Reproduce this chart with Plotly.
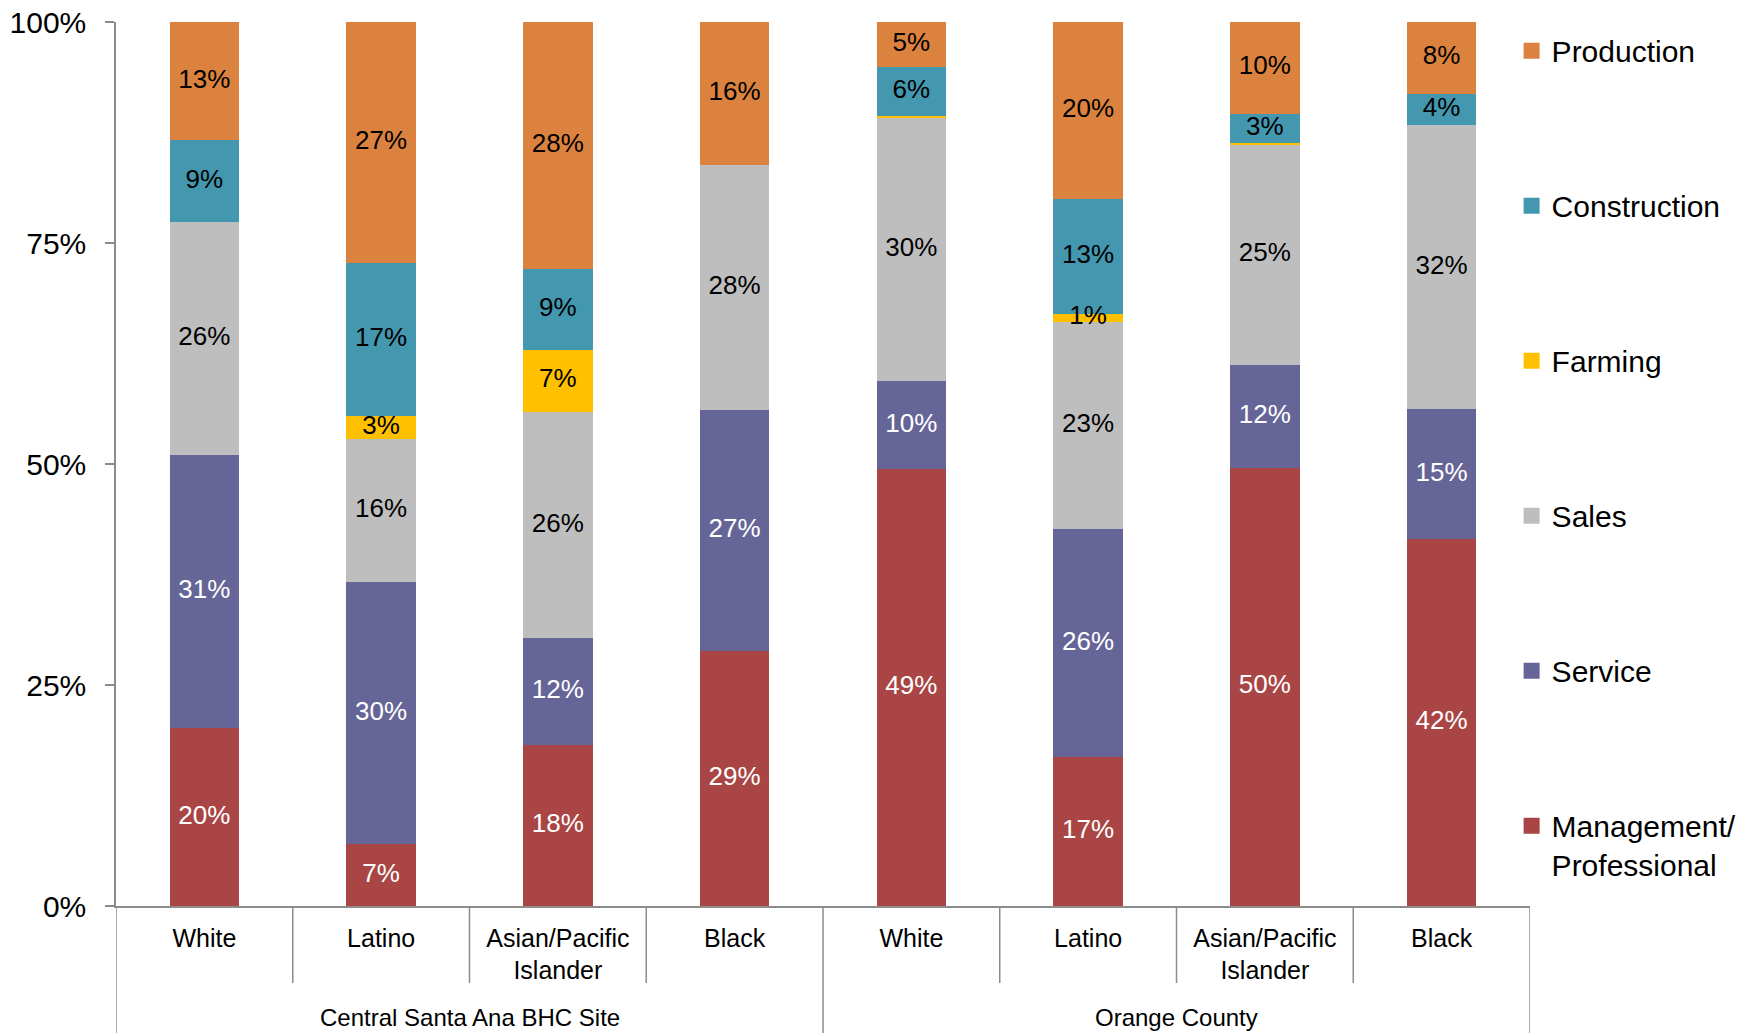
import plotly.graph_objects as go

# ---- data ----
groups = ["Central Santa Ana BHC Site", "Orange County"]
group_centers = [1.5, 5.5]
categories = ["White", "Latino", "Asian/Pacific<br>Islander", "Black",
              "White", "Latino", "Asian/Pacific<br>Islander", "Black"]
xpos = list(range(len(categories)))

management   = [20.1, 7.0, 18.2, 28.9, 49.4, 16.8, 49.6, 41.5]
service      = [30.9, 29.6, 12.1, 27.2, 10.0, 25.9, 11.6, 14.7]
sales        = [26.4, 16.2, 25.6, 27.7, 29.8, 23.4, 24.9, 32.1]
farming      = [0.0, 2.6, 7.0, 0.0, 0.2, 0.9, 0.2, 0.0]
construction = [9.2, 17.3, 9.2, 0.0, 5.5, 13.0, 3.3, 3.6]
production   = [13.4, 27.3, 27.9, 16.2, 5.1, 20.0, 10.4, 8.1]

series = [
    ("Management/<br>Professional", management, "#A94544", "white"),
    ("Service", service, "#666597", "white"),
    ("Sales", sales, "#BEBEBE", "black"),
    ("Farming", farming, "#FFC000", "black"),
    ("Construction", construction, "#4397AF", "black"),
    ("Production", production, "#DB823E", "black"),
]

yticks = [0, 25, 50, 75, 100]
yticklabels = ["0%", "25%", "50%", "75%", "100%"]

FONT = "Liberation Sans, Arial, sans-serif"
AXIS_COLOR = "#8C8C8C"

fig = go.Figure()
n = len(series)
base = [0.0] * len(xpos)
label_traces = []
legend_traces = []
for i, (name, vals, color, tcol) in enumerate(series):
    fig.add_trace(go.Bar(
        x=xpos, y=vals, name=name, showlegend=False,
        marker=dict(color=color, line=dict(width=0)),
        legendgroup=f"g{i}", hoverinfo="skip",
    ))
    mids = [b + v / 2 for b, v in zip(base, vals)]
    labels = [f"{v:.0f}%" if v >= 0.5 else "" for v in vals]
    label_traces.append(go.Scatter(
        x=xpos, y=mids, text=labels, mode="text", textposition="middle center",
        textfont=dict(family=FONT, size=26, color=tcol),
        showlegend=False, hoverinfo="skip", cliponaxis=False,
    ))
    legend_traces.append(go.Scatter(
        x=[None], y=[None], mode="markers", name=name,
        marker=dict(symbol="square", size=16, color=color),
        legendgroup=f"g{i}", legendrank=n - i, showlegend=True,
    ))
    base = [b + v for b, v in zip(base, vals)]
for t in label_traces + legend_traces:
    fig.add_trace(t)

# separators below the axis
shapes = []
for xv in [0.5, 1.5, 2.5, 4.5, 5.5, 6.5]:
    shapes.append(dict(type="line", xref="x", yref="paper", x0=xv, x1=xv,
                       y0=0, y1=-0.087, line=dict(color=AXIS_COLOR, width=1.5)))
for xv in [-0.5, 3.5, 7.5]:
    shapes.append(dict(type="line", xref="x", yref="paper", x0=xv, x1=xv,
                       y0=0, y1=-0.16, line=dict(color=AXIS_COLOR, width=1.5)))

annotations = []
for g, c in zip(groups, group_centers):
    annotations.append(dict(text=g, x=c, xref="x", y=-0.1256, yref="paper",
                            showarrow=False, yanchor="middle", xanchor="center",
                            font=dict(family=FONT, size=24, color="black")))

fig.update_layout(
    width=1762, height=1033,
    barmode="stack", bargap=0.606,
    plot_bgcolor="white", paper_bgcolor="white",
    margin=dict(l=116, r=232, t=22, b=127, autoexpand=False),
    font=dict(family=FONT, color="black"),
    shapes=shapes, annotations=annotations,
    legend=dict(traceorder="grouped", tracegroupgap=113,
                x=0.987, xanchor="left", yref="container", y=0.976, yanchor="top",
                maxheight=1030, itemsizing="trace",
                valign="top", font=dict(family=FONT, size=30, color="black"),
                bgcolor="rgba(0,0,0,0)"),
    xaxis=dict(range=[-0.5, 7.5], tickvals=xpos, ticktext=categories,
               showline=True, linecolor=AXIS_COLOR, linewidth=1.5,
               ticks="", showgrid=False, zeroline=False, automargin=False,
               ticklabelstandoff=9,
               tickfont=dict(family=FONT, size=25, color="black")),
    yaxis=dict(range=[0, 100], tickvals=yticks, ticktext=yticklabels,
               showline=True, linecolor=AXIS_COLOR, linewidth=1.5,
               ticks="outside", ticklen=9, tickcolor=AXIS_COLOR, tickwidth=1.5,
               showgrid=False, zeroline=False, ticklabelstandoff=13,
               automargin=False,
               tickfont=dict(family=FONT, size=30, color="black")),
)

fig.write_html("out.html", config={"displayModeBar": False},
               post_script="document.body.style.margin='0';document.body.style.overflow='hidden';")
